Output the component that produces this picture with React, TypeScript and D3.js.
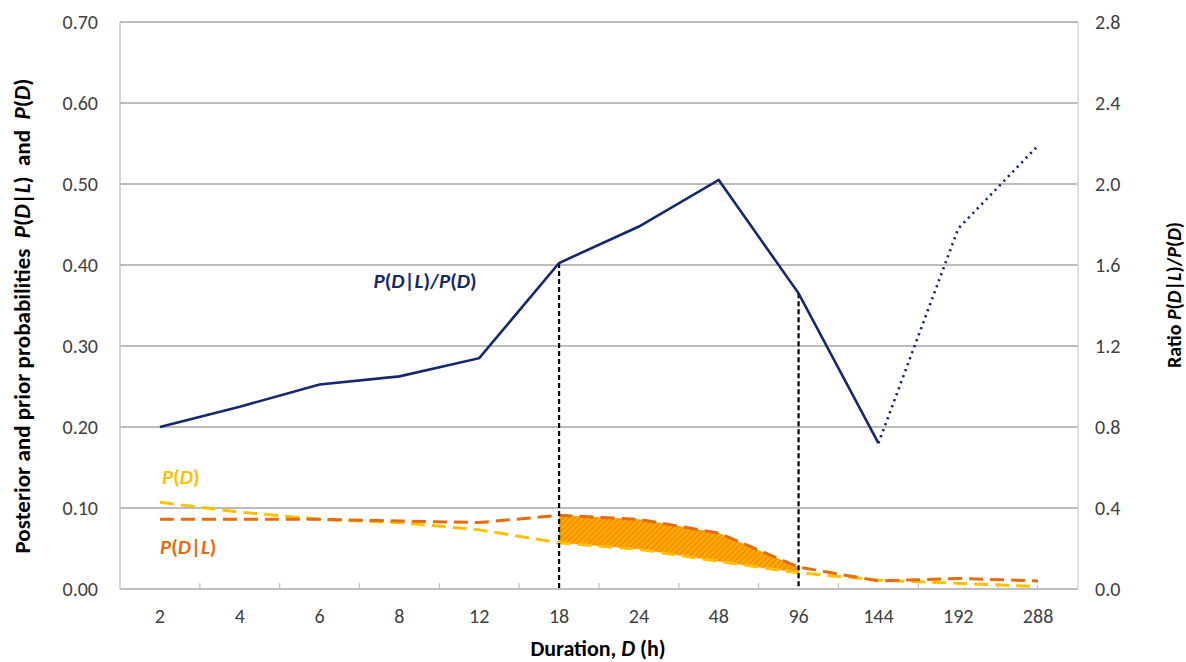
import React from 'react';
import * as d3 from 'd3';

const durations = ['2', '4', '6', '8', '12', '18', '24', '48', '96', '144', '192', '288'];
const ratio = [0.80, 0.90, 1.01, 1.05, 1.14, 1.61, 1.79, 2.02, 1.46, 0.72, 1.78, 2.19];
const pD = [0.107, 0.095, 0.086, 0.082, 0.073, 0.057, 0.049, 0.034, 0.020, 0.011, 0.007, 0.003];
const pDL = [0.086, 0.086, 0.086, 0.084, 0.082, 0.091, 0.086, 0.069, 0.027, 0.010, 0.013, 0.010];
const leftTicks = [0, 0.1, 0.2, 0.3, 0.4, 0.5, 0.6, 0.7];
const rightTicks = [0, 0.4, 0.8, 1.2, 1.6, 2.0, 2.4, 2.8];
// solid part of the ratio line ends at 144 h, the rest is dotted
const solidEnd = 9;
// shaded region between the two dashed lines: 18 h .. 96 h
const shadeFrom = 5;
const shadeTo = 8;

const W = 1186;
const H = 662;
const FONT = 'Carlito, Calibri, Lato, sans-serif';
const NAVY = '#14286b';
const ORANGE = '#e46c0a';
const YELLOW = '#ffc000';

const App = () => {
    const x = d3.scaleBand<string>().domain(durations).range([120, 1078]);
    const yL = d3.scaleLinear().domain([0, 0.7]).range([589, 22]);
    const yR = d3.scaleLinear().domain([0, 2.8]).range([589, 22]);
    const cx = (i: number) => (x(durations[i]) as number) + x.bandwidth() / 2;

    const idx = durations.map((_, i) => i);
    const lineR = d3.line<number>().x(i => cx(i)).y(i => yR(ratio[i]));
    const lineL = (arr: number[]) => d3.line<number>().x(i => cx(i)).y(i => yL(arr[i]));
    const area = d3.area<number>()
        .x(i => cx(i))
        .y0(i => yL(pD[i]))
        .y1(i => yL(pDL[i]));
    const shadeIdx = idx.slice(shadeFrom, shadeTo + 1);

    const [x0, x1] = x.range();
    const boundaries = durations.slice(1).map(d => x(d) as number);

    return (
        <svg width={W} height={H} style={{position: 'absolute', left: 0, top: 0, background: '#fff'}}
             fontFamily={FONT}>
            <defs>
                <pattern id="hatch" width="4" height="4" patternUnits="userSpaceOnUse"
                         patternTransform="rotate(45)">
                    <rect width="4" height="4" fill="#ffa800"/>
                    <line x1="0" y1="0" x2="0" y2="4" stroke="#e8780a" strokeWidth="1.6"/>
                </pattern>
            </defs>

            {/* gridlines */}
            {leftTicks.map(t => (
                <line key={t} x1={x0} x2={x1} y1={yL(t)} y2={yL(t)} stroke="#a6a6a6" strokeWidth={1.3}/>
            ))}
            <line x1={x0} x2={x0} y1={yL(0.7)} y2={yL(0)} stroke="#bfbfbf" strokeWidth={1.3}/>
            <line x1={x1} x2={x1} y1={yL(0.7)} y2={yL(0)} stroke="#d0d0d0" strokeWidth={1.3}/>
            <line x1={x0} x2={x1} y1={yL(0)} y2={yL(0)} stroke="#bfbfbf" strokeWidth={1.3}/>
            {boundaries.map(b => (
                <line key={b} x1={b} x2={b} y1={yL(0)} y2={yL(0) - 6} stroke="#bfbfbf" strokeWidth={1.2}/>
            ))}

            {/* left ticks */}
            {leftTicks.map(t => (
                <text key={t} x={98} y={yL(t)} dy="0.35em" textAnchor="end" fontSize={20} fill="#404040">
                    {d3.format('.2f')(t)}
                </text>
            ))}
            {/* right ticks */}
            {rightTicks.map(t => (
                <text key={t} x={1095} y={yR(t)} dy="0.35em" textAnchor="start" fontSize={20} fill="#404040">
                    {d3.format('.1f')(t)}
                </text>
            ))}
            {/* x ticks */}
            {durations.map((d, i) => (
                <text key={d} x={cx(i)} y={623} textAnchor="middle" fontSize={20} fill="#404040">{d}</text>
            ))}

            {/* shaded difference */}
            <path d={area(shadeIdx) || ''} fill="url(#hatch)"/>

            {/* prior and posterior */}
            <path d={lineL(pD)(idx) || ''} fill="none" stroke={YELLOW} strokeWidth={3}
                  strokeDasharray="14 7"/>
            <path d={lineL(pDL)(idx) || ''} fill="none" stroke={ORANGE} strokeWidth={3}
                  strokeDasharray="14 7"/>

            {/* vertical markers */}
            {[shadeFrom, shadeTo].map(i => (
                <line key={i} x1={cx(i)} x2={cx(i)} y1={yR(ratio[i])} y2={yL(0)}
                      stroke="#000" strokeWidth={2.2} strokeDasharray="5 3"/>
            ))}

            {/* ratio line */}
            <path d={lineR(idx.slice(0, solidEnd + 1)) || ''} fill="none" stroke={NAVY} strokeWidth={2.6}/>
            <path d={lineR(idx.slice(solidEnd)) || ''} fill="none" stroke={NAVY} strokeWidth={2.6}
                  strokeDasharray="2.2 4.2"/>

            {/* series annotations */}
            <text x={425} y={288} textAnchor="middle" fontSize={21} fontWeight="bold" fill={NAVY}>
                <tspan fontStyle="italic">P</tspan>(<tspan fontStyle="italic">D</tspan>|<tspan
                fontStyle="italic">L</tspan>)/<tspan fontStyle="italic">P</tspan>(<tspan
                fontStyle="italic">D</tspan>)
            </text>
            <text x={162} y={484} fontSize={21} fontWeight="bold" fill={YELLOW}>
                <tspan fontStyle="italic">P</tspan>(<tspan fontStyle="italic">D</tspan>)
            </text>
            <text x={160} y={554} fontSize={21} fontWeight="bold" fill={ORANGE}>
                <tspan fontStyle="italic">P</tspan>(<tspan fontStyle="italic">D</tspan>|<tspan
                fontStyle="italic">L</tspan>)
            </text>

            {/* axis titles */}
            <text transform="translate(30,316) rotate(-90)" textAnchor="middle" fontSize={23}
                  fontWeight="bold" fill="#000" style={{whiteSpace: 'pre'}}>
                {'Posterior and prior probabilities  '}<tspan fontStyle="italic">P</tspan>(<tspan
                fontStyle="italic">D</tspan>|<tspan fontStyle="italic">L</tspan>){'  and  '}<tspan
                fontStyle="italic">P</tspan>(<tspan fontStyle="italic">D</tspan>)
            </text>
            <text transform="translate(1181,295) rotate(-90)" textAnchor="middle" fontSize={20}
                  fontWeight="bold" fill="#000">
                {'Ratio '}<tspan fontStyle="italic">P</tspan>(<tspan fontStyle="italic">D</tspan>|<tspan
                fontStyle="italic">L</tspan>)/<tspan fontStyle="italic">P</tspan>(<tspan
                fontStyle="italic">D</tspan>)
            </text>
            <text x={598} y={656} textAnchor="middle" fontSize={22} fontWeight="bold" fill="#000">
                {'Duration, '}<tspan fontStyle="italic">D</tspan>{' (h)'}
            </text>
        </svg>
    );
};

export default App;
